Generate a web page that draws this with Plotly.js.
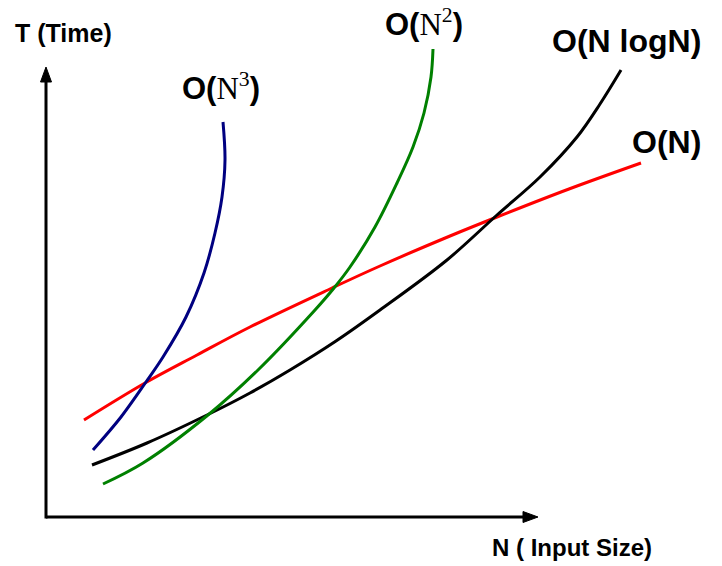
<!DOCTYPE html>
<html>
<head>
<meta charset="utf-8">
<script src="https://cdn.plot.ly/plotly-3.0.1.min.js"></script>
<style>html,body{margin:0;padding:0;background:#fff;}</style>
</head>
<body>
<div id="chart" style="width:722px;height:566px;"></div>
<script>
// Input size N (arbitrary units) and time T (arbitrary units)
const cubicN = [47, 75, 100, 117, 140, 158, 169, 176, 179, 177];
const cubicT = [67, 100, 135, 160, 200, 244, 284, 320, 357, 395];

const linearN = [38, 99, 151, 204, 286, 334, 404, 451, 523, 595];
const linearT = [97, 134, 162, 190, 229, 251, 281, 300, 328, 354];

const nlognN = [46, 101, 161, 204, 244, 290, 334, 401, 451, 494, 531, 554, 575];
const nlognT = [52, 74, 102, 124, 147, 176, 207, 257, 302, 340, 380, 413, 447];

const quadN = [57, 97, 162, 212, 269, 288, 304, 329, 351, 367, 378, 385, 387];
const quadT = [33, 54, 102, 147, 207, 229, 250, 290, 334, 370, 404, 440, 468];

// Axis extents (arrow tips) in data units
const axisEndN = 492;
const axisEndT = 450;

const lineStyle = (c) => ({color: c, width: 3, shape: 'spline', smoothing: 1});

const traces = [
  {x: linearN, y: linearT, mode: 'lines', line: lineStyle('#ff0000'), name: 'O(N)'},
  {x: nlognN, y: nlognT, mode: 'lines', line: lineStyle('#000000'), name: 'O(N logN)'},
  {x: quadN, y: quadT, mode: 'lines', line: lineStyle('#008000'), name: 'O(N^2)'},
  {x: cubicN, y: cubicT, mode: 'lines', line: lineStyle('#000080'), name: 'O(N^3)'}
];

const fam = '"Liberation Sans", Arial, sans-serif';
const labelFont = {family: fam, size: 32, color: '#000'};
const serif = (s) => '<span style="font-family:\'Liberation Serif\',\'Times New Roman\',serif;font-weight:normal">' + s + '</span>';
const powerLabel = (p) => '<b>O(</b>' + serif('N') + '<sup>' + serif(p) + '</sup><b>)</b>';

const headL = 15, headW = 5.5;
const shapes = [
  {type: 'line', xref: 'x', yref: 'y', x0: 0, y0: 0, x1: axisEndN - headL + 2, y1: 0, line: {color: '#000', width: 3}},
  {type: 'line', xref: 'x', yref: 'y', x0: 0, y0: -1.5, x1: 0, y1: axisEndT - headL + 2, line: {color: '#000', width: 3}},
  {type: 'path', xref: 'x', yref: 'y', fillcolor: '#000', line: {color: '#000', width: 1},
   path: `M ${axisEndN - headL},${-headW} L ${axisEndN},0 L ${axisEndN - headL},${headW} Z`},
  {type: 'path', xref: 'x', yref: 'y', fillcolor: '#000', line: {color: '#000', width: 1},
   path: `M ${-headW},${axisEndT - headL} L 0,${axisEndT} L ${headW},${axisEndT - headL} Z`}
];

const layout = {
  width: 722, height: 566,
  margin: {l: 0, r: 0, t: 0, b: 0},
  paper_bgcolor: '#fff', plot_bgcolor: '#fff',
  showlegend: false,
  xaxis: {range: [-46, 676], showgrid: false, zeroline: false, showticklabels: false, showline: false, ticks: '', fixedrange: true},
  yaxis: {range: [-49, 517], showgrid: false, zeroline: false, showticklabels: false, showline: false, ticks: '', fixedrange: true},
  shapes: shapes,
  annotations: [
    {x: 17, y: 484, xref: 'x', yref: 'y', text: '<b>T (Time)</b>', showarrow: false, font: {family: fam, size: 25, color: '#000'}},
    {x: 526, y: -30, xref: 'x', yref: 'y', text: '<b>N ( Input Size)</b>', showarrow: false, font: {family: fam, size: 24, color: '#000'}},
    {x: 175, y: 431, xref: 'x', yref: 'y', text: powerLabel('3'), showarrow: false, font: {family: fam, size: 31, color: '#000'}},
    {x: 378, y: 495, xref: 'x', yref: 'y', text: powerLabel('2'), showarrow: false, font: {family: fam, size: 31, color: '#000'}},
    {x: 580, y: 476, xref: 'x', yref: 'y', text: '<b>O(N logN)</b>', showarrow: false, font: labelFont},
    {x: 620, y: 375, xref: 'x', yref: 'y', text: '<b>O(N)</b>', showarrow: false, font: labelFont}
  ]
};

Plotly.newPlot('chart', traces, layout, {staticPlot: true, displayModeBar: false});
</script>
</body>
</html>
